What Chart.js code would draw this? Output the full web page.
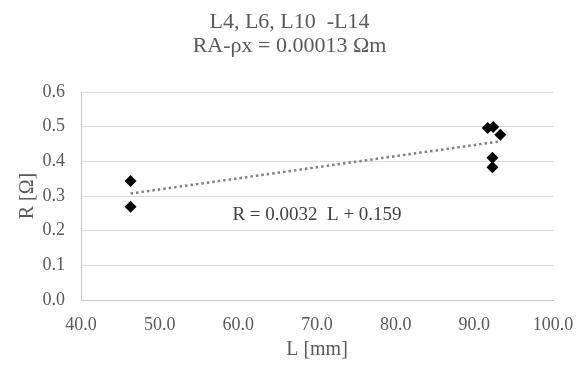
<!DOCTYPE html>
<html>
<head>
    <title>R vs L</title>
    <script src="https://cdn.jsdelivr.net/npm/chart.js"></script>
    <style>
        body { margin: 0; background: #fff; }
        #wrap { width: 579px; height: 368px; }
    </style>
</head>
<body>
    <div id="wrap">
        <canvas id="rChart" width="579" height="368"></canvas>
    </div>

    <script>
        const lengths = [46.3, 46.3, 91.7, 92.4, 93.3, 92.3, 92.3];
        const resistances = [0.343, 0.269, 0.496, 0.499, 0.477, 0.410, 0.383];

        // linear trendline as printed on the chart
        const trendSlope = 0.0032;
        const trendIntercept = 0.159;
        const trendRange = [46.3, 93.3];

        const xTicks = [40, 50, 60, 70, 80, 90, 100];
        const yTicks = [0, 0.1, 0.2, 0.3, 0.4, 0.5, 0.6];
        const titleLines = ["L4, L6, L10  -L14", "RA-\u03c1x = 0.00013 \u03a9m"];

        const serif = "'Liberation Serif', 'Times New Roman', serif";
        const grey = "#595959";

        const points = lengths.map((l, i) => ({ x: l, y: resistances[i] }));
        const trend = trendRange.map(l => ({ x: l, y: trendSlope * l + trendIntercept }));

        // title centred on the whole canvas
        const canvasTitle = {
            id: "canvasTitle",
            afterDraw(chart) {
                const ctx = chart.ctx;
                ctx.save();
                ctx.font = "22px " + serif;
                ctx.fillStyle = grey;
                ctx.textAlign = "center";
                ctx.textBaseline = "middle";
                titleLines.forEach((line, i) => {
                    ctx.fillText(line, chart.width / 2, 22 + i * 24.5);
                });
                ctx.restore();
            }
        };

        // equation label placed in data coordinates
        const equationLabel = {
            id: "equationLabel",
            afterDatasetsDraw(chart) {
                const ctx = chart.ctx;
                const x = chart.scales.x.getPixelForValue(70.0);
                const y = chart.scales.y.getPixelForValue(0.244);
                ctx.save();
                ctx.font = "19px " + serif;
                ctx.fillStyle = "#404040";
                ctx.textAlign = "center";
                ctx.textBaseline = "middle";
                ctx.fillText("R = 0.0032  L + 0.159", x, y);
                ctx.restore();
            }
        };

        const ctx = document.getElementById("rChart").getContext("2d");
        const rChart = new Chart(ctx, {
            type: "scatter",
            data: {
                datasets: [
                    {
                        label: "trend",
                        type: "line",
                        data: trend,
                        borderColor: "#808080",
                        borderWidth: 2.5,
                        borderDash: [2.5, 3],
                        pointRadius: 0,
                        fill: false,
                        order: 2,
                    },
                    {
                        label: "R",
                        data: points,
                        pointStyle: "rectRot",
                        pointRadius: 6,
                        backgroundColor: "#000",
                        borderColor: "#000",
                        borderWidth: 0,
                        order: 1,
                    },
                ],
            },
            options: {
                responsive: false,
                animation: false,
                layout: { padding: { left: 0, right: 26, top: 92, bottom: 0 } },
                plugins: {
                    legend: { display: false },
                    tooltip: { enabled: false },
                    title: { display: false },
                },
                scales: {
                    x: {
                        type: "linear",
                        min: 40,
                        max: 100,
                        afterBuildTicks: axis => { axis.ticks = xTicks.map(v => ({ value: v })); },
                        afterFit: axis => {
                            axis.height = 68;
                            axis.paddingLeft = 0;
                            axis.paddingRight = 0;
                        },
                        ticks: {
                            callback: v => Number(v).toFixed(1),
                            color: grey,
                            font: { family: serif, size: 18 },
                            padding: 14,
                            maxRotation: 0,
                        },
                        grid: { display: false, drawTicks: false },
                        border: { display: true, color: "#c8c8c8", width: 1 },
                        title: {
                            display: true,
                            text: "L [mm]",
                            color: grey,
                            font: { family: serif, size: 20 },
                            padding: { top: 4, bottom: 6 },
                        },
                    },
                    y: {
                        min: 0,
                        max: 0.6,
                        afterBuildTicks: axis => { axis.ticks = yTicks.map(v => ({ value: v })); },
                        afterFit: axis => {
                            axis.width = 81;
                            axis.paddingTop = 0;
                            axis.paddingBottom = 0;
                        },
                        ticks: {
                            callback: v => Number(v).toFixed(1),
                            color: grey,
                            font: { family: serif, size: 18 },
                            padding: 16,
                        },
                        grid: { color: "#d9d9d9", lineWidth: 1, drawTicks: false },
                        border: { display: true, color: "#c8c8c8", width: 1 },
                        title: {
                            display: true,
                            text: "R [\u03a9]",
                            color: grey,
                            font: { family: serif, size: 20 },
                            padding: { top: 16, bottom: 4 },
                        },
                    },
                },
            },
            plugins: [equationLabel, canvasTitle],
        });
    </script>
</body>
</html>
